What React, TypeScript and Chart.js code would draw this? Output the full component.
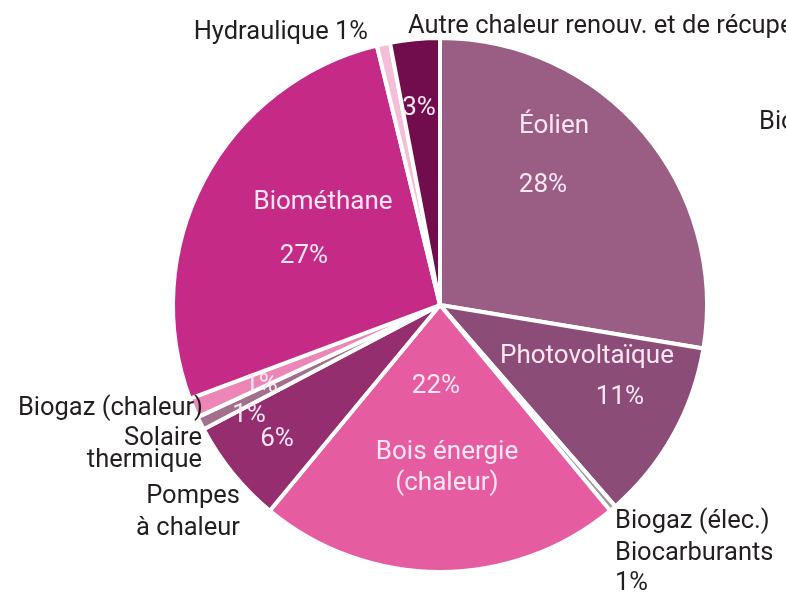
import React, { useEffect, useRef } from "react";
import { Chart, registerables } from "chart.js";

Chart.register(...registerables);

// ---- Data ----
const categories = [
  "Éolien",
  "Photovoltaïque",
  "Biogaz (élec.) / Biocarburants",
  "Bois énergie (chaleur)",
  "Pompes à chaleur",
  "Solaire thermique",
  "Biogaz (chaleur)",
  "Biométhane",
  "Hydraulique",
  "Autre chaleur renouv. et de récupération",
];
const shares = [27.6, 11.0, 0.4, 22.0, 6.3, 0.8, 1.2, 26.9, 0.8, 3.0];
const shareLabels = ["28%", "11%", "1%", "22%", "6%", "1%", "1%", "27%", "1%", "3%"];

// ---- Styles ----
const sliceColors = [
  "#9A5E84",
  "#8C4C78",
  "#9C9C9C",
  "#E55CA0",
  "#942E6E",
  "#A0708C",
  "#EC86B6",
  "#C52A87",
  "#F5BED8",
  "#720D4D",
];

const FONT = "Roboto, 'Open Sans', sans-serif";
const INNER_COLOR = "#FBE6F1";
const OUTER_COLOR = "#231F20";
const REF_R = 265;

// label layout: offsets (px at reference radius) from the pie centre, alphabetic baseline
type Lbl = { text: string; dx: number; dy: number; align: CanvasTextAlign };
const innerLabels: Lbl[] = [
  { text: "Éolien", dx: 114, dy: -172, align: "center" },
  { text: shareLabels[0], dx: 103, dy: -113, align: "center" },
  { text: "Photovoltaïque", dx: 147, dy: 58, align: "center" },
  { text: shareLabels[1], dx: 180, dy: 99, align: "center" },
  { text: shareLabels[3], dx: -4, dy: 88, align: "center" },
  { text: "Bois énergie", dx: 7, dy: 154, align: "center" },
  { text: "(chaleur)", dx: 7, dy: 185, align: "center" },
  { text: shareLabels[4], dx: -163, dy: 141, align: "center" },
  { text: shareLabels[5], dx: -191, dy: 117, align: "center" },
  { text: shareLabels[6], dx: -179, dy: 87, align: "center" },
  { text: "Biométhane", dx: -117, dy: -96, align: "center" },
  { text: shareLabels[7], dx: -136, dy: -42, align: "center" },
  { text: shareLabels[9], dx: -21, dy: -190, align: "center" },
];
const outerLabels: Lbl[] = [
  { text: "Hydraulique " + shareLabels[8], dx: -72, dy: -266, align: "right" },
  { text: categories[9] + " " + shareLabels[9], dx: -32, dy: -272, align: "left" },
  { text: "Biométhane", dx: 319, dy: -176, align: "left" },
  { text: "Biogaz (chaleur)", dx: -237, dy: 110, align: "right" },
  { text: "Solaire", dx: -238, dy: 140, align: "right" },
  { text: "thermique", dx: -238, dy: 162, align: "right" },
  { text: "Pompes", dx: -200, dy: 198, align: "right" },
  { text: "à chaleur", dx: -200, dy: 230, align: "right" },
  { text: "Biogaz (élec.)", dx: 175, dy: 223, align: "left" },
  { text: "Biocarburants", dx: 175, dy: 255, align: "left" },
  { text: shareLabels[2], dx: 175, dy: 285, align: "left" },
];

const labelPlugin = {
  id: "pieTextLabels",
  afterDatasetsDraw(chart: any) {
    const meta = chart.getDatasetMeta(0);
    const arc = meta.data[0] as any;
    if (!arc) return;
    const cx = arc.x;
    const cy = arc.y;
    const s = (arc.outerRadius - 2) / REF_R;
    const ctx = chart.ctx as CanvasRenderingContext2D;
    ctx.save();
    ctx.textBaseline = "alphabetic";
    ctx.font = `400 26px ${FONT}`;
    ctx.fillStyle = INNER_COLOR;
    for (const l of innerLabels) {
      ctx.textAlign = l.align;
      ctx.fillText(l.text, cx + l.dx * s, cy + l.dy * s);
    }
    ctx.font = `400 25.5px ${FONT}`;
    ctx.fillStyle = OUTER_COLOR;
    for (const l of outerLabels) {
      ctx.textAlign = l.align;
      ctx.fillText(l.text, cx + l.dx * s, cy + l.dy * s);
    }
    ctx.restore();
  },
};

export default function App() {
  const canvasRef = useRef<HTMLCanvasElement | null>(null);

  useEffect(() => {
    if (!canvasRef.current) return;
    const chart = new Chart(canvasRef.current, {
      type: "pie",
      data: {
        labels: categories,
        datasets: [
          {
            data: shares,
            backgroundColor: sliceColors,
            borderColor: "#FFFFFF",
            borderWidth: 4,
          },
        ],
      },
      options: {
        animation: false,
        responsive: true,
        maintainAspectRatio: false,
        layout: { padding: { left: 171, top: 36, right: 77, bottom: 21 } },
        plugins: {
          legend: { display: false },
          tooltip: { enabled: false },
        },
      },
      plugins: [labelPlugin],
    });
    return () => chart.destroy();
  }, []);

  return (
    <div style={{ position: "absolute", left: 0, top: 0, width: 786, height: 595, background: "#FFFFFF" }}>
      <canvas ref={canvasRef} />
    </div>
  );
}
